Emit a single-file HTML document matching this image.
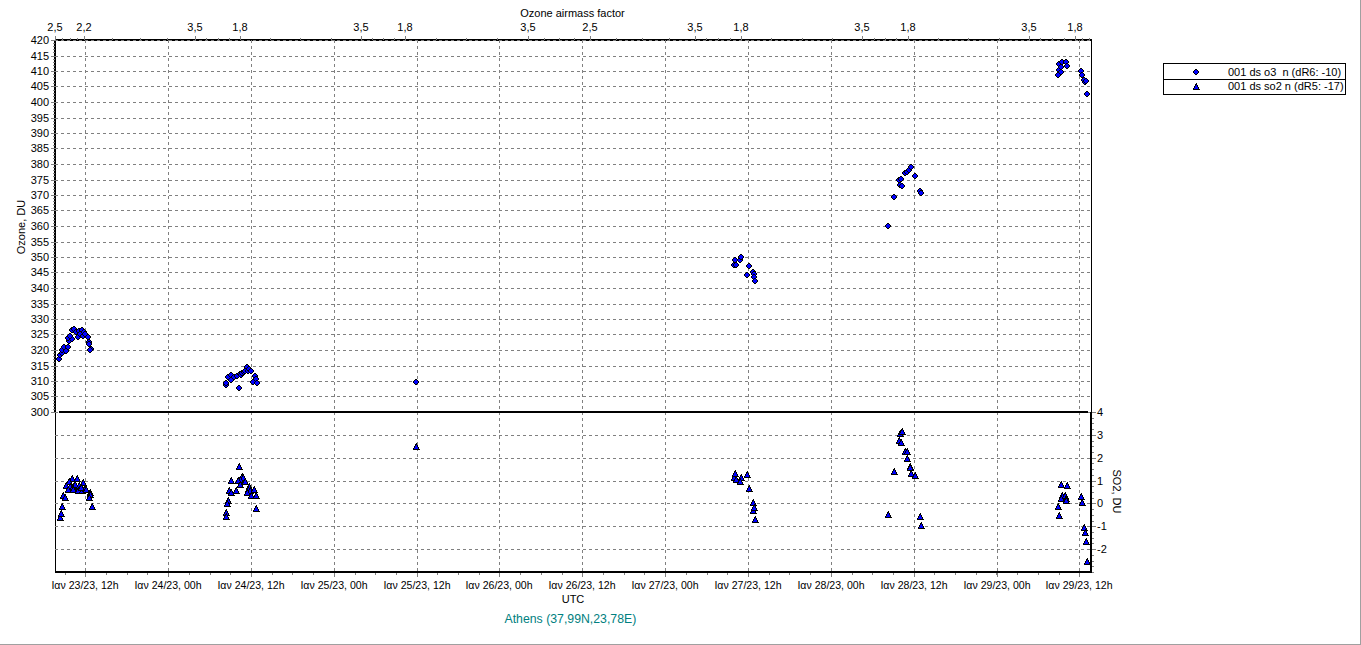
<!DOCTYPE html>
<html><head><meta charset="utf-8"><title>Ozone chart</title>
<style>
html,body{margin:0;padding:0;background:#fff;overflow:hidden}
body{width:1361px;height:645px;font-family:"Liberation Sans",sans-serif}
svg{display:block}
</style></head><body>
<svg width="1361" height="645" viewBox="0 0 1361 645">
<rect width="1361" height="645" fill="#fff"/>
<g shape-rendering="crispEdges">
<rect x="54" y="41" width="2" height="371" fill="#000"/>
<rect x="55" y="412" width="1" height="161" fill="#000"/>
<rect x="56" y="39" width="1036" height="2" fill="#000"/>
<rect x="1091" y="39" width="1" height="373" fill="#000"/>
<rect x="1090" y="412" width="2" height="161" fill="#000"/>
<rect x="55" y="571" width="1037" height="2" fill="#000"/>
<line x1="55" x2="1090" y1="40.5" y2="40.5" stroke="#808080" stroke-width="1" stroke-dasharray="3 3"/>
<line x1="55" x2="1090" y1="56.5" y2="56.5" stroke="#808080" stroke-width="1" stroke-dasharray="3 3"/>
<line x1="55" x2="1090" y1="71.5" y2="71.5" stroke="#808080" stroke-width="1" stroke-dasharray="3 3"/>
<line x1="55" x2="1090" y1="86.5" y2="86.5" stroke="#808080" stroke-width="1" stroke-dasharray="3 3"/>
<line x1="55" x2="1090" y1="102.5" y2="102.5" stroke="#808080" stroke-width="1" stroke-dasharray="3 3"/>
<line x1="55" x2="1090" y1="118.5" y2="118.5" stroke="#808080" stroke-width="1" stroke-dasharray="3 3"/>
<line x1="55" x2="1090" y1="133.5" y2="133.5" stroke="#808080" stroke-width="1" stroke-dasharray="3 3"/>
<line x1="55" x2="1090" y1="148.5" y2="148.5" stroke="#808080" stroke-width="1" stroke-dasharray="3 3"/>
<line x1="55" x2="1090" y1="164.5" y2="164.5" stroke="#808080" stroke-width="1" stroke-dasharray="3 3"/>
<line x1="55" x2="1090" y1="180.5" y2="180.5" stroke="#808080" stroke-width="1" stroke-dasharray="3 3"/>
<line x1="55" x2="1090" y1="195.5" y2="195.5" stroke="#808080" stroke-width="1" stroke-dasharray="3 3"/>
<line x1="55" x2="1090" y1="210.5" y2="210.5" stroke="#808080" stroke-width="1" stroke-dasharray="3 3"/>
<line x1="55" x2="1090" y1="226.5" y2="226.5" stroke="#808080" stroke-width="1" stroke-dasharray="3 3"/>
<line x1="55" x2="1090" y1="242.5" y2="242.5" stroke="#808080" stroke-width="1" stroke-dasharray="3 3"/>
<line x1="55" x2="1090" y1="257.5" y2="257.5" stroke="#808080" stroke-width="1" stroke-dasharray="3 3"/>
<line x1="55" x2="1090" y1="272.5" y2="272.5" stroke="#808080" stroke-width="1" stroke-dasharray="3 3"/>
<line x1="55" x2="1090" y1="288.5" y2="288.5" stroke="#808080" stroke-width="1" stroke-dasharray="3 3"/>
<line x1="55" x2="1090" y1="304.5" y2="304.5" stroke="#808080" stroke-width="1" stroke-dasharray="3 3"/>
<line x1="55" x2="1090" y1="319.5" y2="319.5" stroke="#808080" stroke-width="1" stroke-dasharray="3 3"/>
<line x1="55" x2="1090" y1="334.5" y2="334.5" stroke="#808080" stroke-width="1" stroke-dasharray="3 3"/>
<line x1="55" x2="1090" y1="350.5" y2="350.5" stroke="#808080" stroke-width="1" stroke-dasharray="3 3"/>
<line x1="55" x2="1090" y1="366.5" y2="366.5" stroke="#808080" stroke-width="1" stroke-dasharray="3 3"/>
<line x1="55" x2="1090" y1="381.5" y2="381.5" stroke="#808080" stroke-width="1" stroke-dasharray="3 3"/>
<line x1="55" x2="1090" y1="396.5" y2="396.5" stroke="#808080" stroke-width="1" stroke-dasharray="3 3"/>
<line x1="55" x2="1090" y1="412.5" y2="412.5" stroke="#808080" stroke-width="1" stroke-dasharray="3 3"/>
<line x1="55" x2="1090" y1="435.5" y2="435.5" stroke="#808080" stroke-width="1" stroke-dasharray="3 3"/>
<line x1="55" x2="1090" y1="458.5" y2="458.5" stroke="#808080" stroke-width="1" stroke-dasharray="3 3"/>
<line x1="55" x2="1090" y1="481.5" y2="481.5" stroke="#808080" stroke-width="1" stroke-dasharray="3 3"/>
<line x1="55" x2="1090" y1="503.5" y2="503.5" stroke="#808080" stroke-width="1" stroke-dasharray="3 3"/>
<line x1="55" x2="1090" y1="526.5" y2="526.5" stroke="#808080" stroke-width="1" stroke-dasharray="3 3"/>
<line x1="55" x2="1090" y1="549.5" y2="549.5" stroke="#808080" stroke-width="1" stroke-dasharray="3 3"/>
<line x1="85.5" x2="85.5" y1="40" y2="571" stroke="#808080" stroke-width="1" stroke-dasharray="3 3"/>
<line x1="168.5" x2="168.5" y1="40" y2="571" stroke="#808080" stroke-width="1" stroke-dasharray="3 3"/>
<line x1="251.5" x2="251.5" y1="40" y2="571" stroke="#808080" stroke-width="1" stroke-dasharray="3 3"/>
<line x1="334.5" x2="334.5" y1="40" y2="571" stroke="#808080" stroke-width="1" stroke-dasharray="3 3"/>
<line x1="417.5" x2="417.5" y1="40" y2="571" stroke="#808080" stroke-width="1" stroke-dasharray="3 3"/>
<line x1="499.5" x2="499.5" y1="40" y2="571" stroke="#808080" stroke-width="1" stroke-dasharray="3 3"/>
<line x1="582.5" x2="582.5" y1="40" y2="571" stroke="#808080" stroke-width="1" stroke-dasharray="3 3"/>
<line x1="665.5" x2="665.5" y1="40" y2="571" stroke="#808080" stroke-width="1" stroke-dasharray="3 3"/>
<line x1="748.5" x2="748.5" y1="40" y2="571" stroke="#808080" stroke-width="1" stroke-dasharray="3 3"/>
<line x1="831.5" x2="831.5" y1="40" y2="571" stroke="#808080" stroke-width="1" stroke-dasharray="3 3"/>
<line x1="914.5" x2="914.5" y1="40" y2="571" stroke="#808080" stroke-width="1" stroke-dasharray="3 3"/>
<line x1="997.5" x2="997.5" y1="40" y2="571" stroke="#808080" stroke-width="1" stroke-dasharray="3 3"/>
<line x1="1079.5" x2="1079.5" y1="40" y2="571" stroke="#808080" stroke-width="1" stroke-dasharray="3 3"/>
<rect x="51" y="40" width="4" height="1" fill="#808080"/>
<rect x="51" y="56" width="4" height="1" fill="#808080"/>
<rect x="51" y="71" width="4" height="1" fill="#808080"/>
<rect x="51" y="86" width="4" height="1" fill="#808080"/>
<rect x="51" y="102" width="4" height="1" fill="#808080"/>
<rect x="51" y="118" width="4" height="1" fill="#808080"/>
<rect x="51" y="133" width="4" height="1" fill="#808080"/>
<rect x="51" y="148" width="4" height="1" fill="#808080"/>
<rect x="51" y="164" width="4" height="1" fill="#808080"/>
<rect x="51" y="180" width="4" height="1" fill="#808080"/>
<rect x="51" y="195" width="4" height="1" fill="#808080"/>
<rect x="51" y="210" width="4" height="1" fill="#808080"/>
<rect x="51" y="226" width="4" height="1" fill="#808080"/>
<rect x="51" y="242" width="4" height="1" fill="#808080"/>
<rect x="51" y="257" width="4" height="1" fill="#808080"/>
<rect x="51" y="272" width="4" height="1" fill="#808080"/>
<rect x="51" y="288" width="4" height="1" fill="#808080"/>
<rect x="51" y="304" width="4" height="1" fill="#808080"/>
<rect x="51" y="319" width="4" height="1" fill="#808080"/>
<rect x="51" y="334" width="4" height="1" fill="#808080"/>
<rect x="51" y="350" width="4" height="1" fill="#808080"/>
<rect x="51" y="366" width="4" height="1" fill="#808080"/>
<rect x="51" y="381" width="4" height="1" fill="#808080"/>
<rect x="51" y="396" width="4" height="1" fill="#808080"/>
<rect x="51" y="412" width="4" height="1" fill="#808080"/>
<rect x="53" y="412" width="2" height="1" fill="#808080"/>
<rect x="53" y="409" width="2" height="1" fill="#808080"/>
<rect x="53" y="406" width="2" height="1" fill="#808080"/>
<rect x="53" y="403" width="2" height="1" fill="#808080"/>
<rect x="53" y="400" width="2" height="1" fill="#808080"/>
<rect x="53" y="396" width="2" height="1" fill="#808080"/>
<rect x="53" y="393" width="2" height="1" fill="#808080"/>
<rect x="53" y="390" width="2" height="1" fill="#808080"/>
<rect x="53" y="387" width="2" height="1" fill="#808080"/>
<rect x="53" y="384" width="2" height="1" fill="#808080"/>
<rect x="53" y="381" width="2" height="1" fill="#808080"/>
<rect x="53" y="378" width="2" height="1" fill="#808080"/>
<rect x="53" y="375" width="2" height="1" fill="#808080"/>
<rect x="53" y="372" width="2" height="1" fill="#808080"/>
<rect x="53" y="369" width="2" height="1" fill="#808080"/>
<rect x="53" y="366" width="2" height="1" fill="#808080"/>
<rect x="53" y="362" width="2" height="1" fill="#808080"/>
<rect x="53" y="359" width="2" height="1" fill="#808080"/>
<rect x="53" y="356" width="2" height="1" fill="#808080"/>
<rect x="53" y="353" width="2" height="1" fill="#808080"/>
<rect x="53" y="350" width="2" height="1" fill="#808080"/>
<rect x="53" y="347" width="2" height="1" fill="#808080"/>
<rect x="53" y="344" width="2" height="1" fill="#808080"/>
<rect x="53" y="341" width="2" height="1" fill="#808080"/>
<rect x="53" y="338" width="2" height="1" fill="#808080"/>
<rect x="53" y="334" width="2" height="1" fill="#808080"/>
<rect x="53" y="331" width="2" height="1" fill="#808080"/>
<rect x="53" y="328" width="2" height="1" fill="#808080"/>
<rect x="53" y="325" width="2" height="1" fill="#808080"/>
<rect x="53" y="322" width="2" height="1" fill="#808080"/>
<rect x="53" y="319" width="2" height="1" fill="#808080"/>
<rect x="53" y="316" width="2" height="1" fill="#808080"/>
<rect x="53" y="313" width="2" height="1" fill="#808080"/>
<rect x="53" y="310" width="2" height="1" fill="#808080"/>
<rect x="53" y="307" width="2" height="1" fill="#808080"/>
<rect x="53" y="304" width="2" height="1" fill="#808080"/>
<rect x="53" y="300" width="2" height="1" fill="#808080"/>
<rect x="53" y="297" width="2" height="1" fill="#808080"/>
<rect x="53" y="294" width="2" height="1" fill="#808080"/>
<rect x="53" y="291" width="2" height="1" fill="#808080"/>
<rect x="53" y="288" width="2" height="1" fill="#808080"/>
<rect x="53" y="285" width="2" height="1" fill="#808080"/>
<rect x="53" y="282" width="2" height="1" fill="#808080"/>
<rect x="53" y="279" width="2" height="1" fill="#808080"/>
<rect x="53" y="276" width="2" height="1" fill="#808080"/>
<rect x="53" y="272" width="2" height="1" fill="#808080"/>
<rect x="53" y="269" width="2" height="1" fill="#808080"/>
<rect x="53" y="266" width="2" height="1" fill="#808080"/>
<rect x="53" y="263" width="2" height="1" fill="#808080"/>
<rect x="53" y="260" width="2" height="1" fill="#808080"/>
<rect x="53" y="257" width="2" height="1" fill="#808080"/>
<rect x="53" y="254" width="2" height="1" fill="#808080"/>
<rect x="53" y="251" width="2" height="1" fill="#808080"/>
<rect x="53" y="248" width="2" height="1" fill="#808080"/>
<rect x="53" y="245" width="2" height="1" fill="#808080"/>
<rect x="53" y="242" width="2" height="1" fill="#808080"/>
<rect x="53" y="238" width="2" height="1" fill="#808080"/>
<rect x="53" y="235" width="2" height="1" fill="#808080"/>
<rect x="53" y="232" width="2" height="1" fill="#808080"/>
<rect x="53" y="229" width="2" height="1" fill="#808080"/>
<rect x="53" y="226" width="2" height="1" fill="#808080"/>
<rect x="53" y="223" width="2" height="1" fill="#808080"/>
<rect x="53" y="220" width="2" height="1" fill="#808080"/>
<rect x="53" y="217" width="2" height="1" fill="#808080"/>
<rect x="53" y="214" width="2" height="1" fill="#808080"/>
<rect x="53" y="210" width="2" height="1" fill="#808080"/>
<rect x="53" y="207" width="2" height="1" fill="#808080"/>
<rect x="53" y="204" width="2" height="1" fill="#808080"/>
<rect x="53" y="201" width="2" height="1" fill="#808080"/>
<rect x="53" y="198" width="2" height="1" fill="#808080"/>
<rect x="53" y="195" width="2" height="1" fill="#808080"/>
<rect x="53" y="192" width="2" height="1" fill="#808080"/>
<rect x="53" y="189" width="2" height="1" fill="#808080"/>
<rect x="53" y="186" width="2" height="1" fill="#808080"/>
<rect x="53" y="183" width="2" height="1" fill="#808080"/>
<rect x="53" y="180" width="2" height="1" fill="#808080"/>
<rect x="53" y="176" width="2" height="1" fill="#808080"/>
<rect x="53" y="173" width="2" height="1" fill="#808080"/>
<rect x="53" y="170" width="2" height="1" fill="#808080"/>
<rect x="53" y="167" width="2" height="1" fill="#808080"/>
<rect x="53" y="164" width="2" height="1" fill="#808080"/>
<rect x="53" y="161" width="2" height="1" fill="#808080"/>
<rect x="53" y="158" width="2" height="1" fill="#808080"/>
<rect x="53" y="155" width="2" height="1" fill="#808080"/>
<rect x="53" y="152" width="2" height="1" fill="#808080"/>
<rect x="53" y="148" width="2" height="1" fill="#808080"/>
<rect x="53" y="145" width="2" height="1" fill="#808080"/>
<rect x="53" y="142" width="2" height="1" fill="#808080"/>
<rect x="53" y="139" width="2" height="1" fill="#808080"/>
<rect x="53" y="136" width="2" height="1" fill="#808080"/>
<rect x="53" y="133" width="2" height="1" fill="#808080"/>
<rect x="53" y="130" width="2" height="1" fill="#808080"/>
<rect x="53" y="127" width="2" height="1" fill="#808080"/>
<rect x="53" y="124" width="2" height="1" fill="#808080"/>
<rect x="53" y="121" width="2" height="1" fill="#808080"/>
<rect x="53" y="118" width="2" height="1" fill="#808080"/>
<rect x="53" y="114" width="2" height="1" fill="#808080"/>
<rect x="53" y="111" width="2" height="1" fill="#808080"/>
<rect x="53" y="108" width="2" height="1" fill="#808080"/>
<rect x="53" y="105" width="2" height="1" fill="#808080"/>
<rect x="53" y="102" width="2" height="1" fill="#808080"/>
<rect x="53" y="99" width="2" height="1" fill="#808080"/>
<rect x="53" y="96" width="2" height="1" fill="#808080"/>
<rect x="53" y="93" width="2" height="1" fill="#808080"/>
<rect x="53" y="90" width="2" height="1" fill="#808080"/>
<rect x="53" y="86" width="2" height="1" fill="#808080"/>
<rect x="53" y="83" width="2" height="1" fill="#808080"/>
<rect x="53" y="80" width="2" height="1" fill="#808080"/>
<rect x="53" y="77" width="2" height="1" fill="#808080"/>
<rect x="53" y="74" width="2" height="1" fill="#808080"/>
<rect x="53" y="71" width="2" height="1" fill="#808080"/>
<rect x="53" y="68" width="2" height="1" fill="#808080"/>
<rect x="53" y="65" width="2" height="1" fill="#808080"/>
<rect x="53" y="62" width="2" height="1" fill="#808080"/>
<rect x="53" y="59" width="2" height="1" fill="#808080"/>
<rect x="53" y="56" width="2" height="1" fill="#808080"/>
<rect x="53" y="52" width="2" height="1" fill="#808080"/>
<rect x="53" y="49" width="2" height="1" fill="#808080"/>
<rect x="53" y="46" width="2" height="1" fill="#808080"/>
<rect x="53" y="43" width="2" height="1" fill="#808080"/>
<rect x="53" y="40" width="2" height="1" fill="#808080"/>
<rect x="1092" y="412" width="4" height="1" fill="#808080"/>
<rect x="1092" y="435" width="4" height="1" fill="#808080"/>
<rect x="1092" y="458" width="4" height="1" fill="#808080"/>
<rect x="1092" y="481" width="4" height="1" fill="#808080"/>
<rect x="1092" y="503" width="4" height="1" fill="#808080"/>
<rect x="1092" y="526" width="4" height="1" fill="#808080"/>
<rect x="1092" y="549" width="4" height="1" fill="#808080"/>
<rect x="1092" y="412" width="2" height="1" fill="#808080"/>
<rect x="1092" y="418" width="2" height="1" fill="#808080"/>
<rect x="1092" y="423" width="2" height="1" fill="#808080"/>
<rect x="1092" y="429" width="2" height="1" fill="#808080"/>
<rect x="1092" y="435" width="2" height="1" fill="#808080"/>
<rect x="1092" y="441" width="2" height="1" fill="#808080"/>
<rect x="1092" y="446" width="2" height="1" fill="#808080"/>
<rect x="1092" y="452" width="2" height="1" fill="#808080"/>
<rect x="1092" y="458" width="2" height="1" fill="#808080"/>
<rect x="1092" y="463" width="2" height="1" fill="#808080"/>
<rect x="1092" y="469" width="2" height="1" fill="#808080"/>
<rect x="1092" y="475" width="2" height="1" fill="#808080"/>
<rect x="1092" y="481" width="2" height="1" fill="#808080"/>
<rect x="1092" y="486" width="2" height="1" fill="#808080"/>
<rect x="1092" y="492" width="2" height="1" fill="#808080"/>
<rect x="1092" y="498" width="2" height="1" fill="#808080"/>
<rect x="1092" y="503" width="2" height="1" fill="#808080"/>
<rect x="1092" y="509" width="2" height="1" fill="#808080"/>
<rect x="1092" y="515" width="2" height="1" fill="#808080"/>
<rect x="1092" y="521" width="2" height="1" fill="#808080"/>
<rect x="1092" y="526" width="2" height="1" fill="#808080"/>
<rect x="1092" y="532" width="2" height="1" fill="#808080"/>
<rect x="1092" y="538" width="2" height="1" fill="#808080"/>
<rect x="1092" y="543" width="2" height="1" fill="#808080"/>
<rect x="1092" y="549" width="2" height="1" fill="#808080"/>
<rect x="1092" y="555" width="2" height="1" fill="#808080"/>
<rect x="1092" y="561" width="2" height="1" fill="#808080"/>
<rect x="1092" y="566" width="2" height="1" fill="#808080"/>
<rect x="1092" y="572" width="2" height="1" fill="#808080"/>
<rect x="85" y="573" width="1" height="4" fill="#808080"/>
<rect x="168" y="573" width="1" height="4" fill="#808080"/>
<rect x="251" y="573" width="1" height="4" fill="#808080"/>
<rect x="334" y="573" width="1" height="4" fill="#808080"/>
<rect x="417" y="573" width="1" height="4" fill="#808080"/>
<rect x="499" y="573" width="1" height="4" fill="#808080"/>
<rect x="582" y="573" width="1" height="4" fill="#808080"/>
<rect x="665" y="573" width="1" height="4" fill="#808080"/>
<rect x="748" y="573" width="1" height="4" fill="#808080"/>
<rect x="831" y="573" width="1" height="4" fill="#808080"/>
<rect x="914" y="573" width="1" height="4" fill="#808080"/>
<rect x="997" y="573" width="1" height="4" fill="#808080"/>
<rect x="1079" y="573" width="1" height="4" fill="#808080"/>
<rect x="65" y="573" width="1" height="2" fill="#808080"/>
<rect x="85" y="573" width="1" height="2" fill="#808080"/>
<rect x="106" y="573" width="1" height="2" fill="#808080"/>
<rect x="127" y="573" width="1" height="2" fill="#808080"/>
<rect x="147" y="573" width="1" height="2" fill="#808080"/>
<rect x="168" y="573" width="1" height="2" fill="#808080"/>
<rect x="189" y="573" width="1" height="2" fill="#808080"/>
<rect x="210" y="573" width="1" height="2" fill="#808080"/>
<rect x="230" y="573" width="1" height="2" fill="#808080"/>
<rect x="251" y="573" width="1" height="2" fill="#808080"/>
<rect x="272" y="573" width="1" height="2" fill="#808080"/>
<rect x="292" y="573" width="1" height="2" fill="#808080"/>
<rect x="313" y="573" width="1" height="2" fill="#808080"/>
<rect x="334" y="573" width="1" height="2" fill="#808080"/>
<rect x="355" y="573" width="1" height="2" fill="#808080"/>
<rect x="375" y="573" width="1" height="2" fill="#808080"/>
<rect x="396" y="573" width="1" height="2" fill="#808080"/>
<rect x="417" y="573" width="1" height="2" fill="#808080"/>
<rect x="437" y="573" width="1" height="2" fill="#808080"/>
<rect x="458" y="573" width="1" height="2" fill="#808080"/>
<rect x="479" y="573" width="1" height="2" fill="#808080"/>
<rect x="499" y="573" width="1" height="2" fill="#808080"/>
<rect x="520" y="573" width="1" height="2" fill="#808080"/>
<rect x="541" y="573" width="1" height="2" fill="#808080"/>
<rect x="562" y="573" width="1" height="2" fill="#808080"/>
<rect x="582" y="573" width="1" height="2" fill="#808080"/>
<rect x="603" y="573" width="1" height="2" fill="#808080"/>
<rect x="624" y="573" width="1" height="2" fill="#808080"/>
<rect x="644" y="573" width="1" height="2" fill="#808080"/>
<rect x="665" y="573" width="1" height="2" fill="#808080"/>
<rect x="686" y="573" width="1" height="2" fill="#808080"/>
<rect x="707" y="573" width="1" height="2" fill="#808080"/>
<rect x="727" y="573" width="1" height="2" fill="#808080"/>
<rect x="748" y="573" width="1" height="2" fill="#808080"/>
<rect x="769" y="573" width="1" height="2" fill="#808080"/>
<rect x="789" y="573" width="1" height="2" fill="#808080"/>
<rect x="810" y="573" width="1" height="2" fill="#808080"/>
<rect x="831" y="573" width="1" height="2" fill="#808080"/>
<rect x="852" y="573" width="1" height="2" fill="#808080"/>
<rect x="872" y="573" width="1" height="2" fill="#808080"/>
<rect x="893" y="573" width="1" height="2" fill="#808080"/>
<rect x="914" y="573" width="1" height="2" fill="#808080"/>
<rect x="934" y="573" width="1" height="2" fill="#808080"/>
<rect x="955" y="573" width="1" height="2" fill="#808080"/>
<rect x="976" y="573" width="1" height="2" fill="#808080"/>
<rect x="996" y="573" width="1" height="2" fill="#808080"/>
<rect x="1017" y="573" width="1" height="2" fill="#808080"/>
<rect x="1038" y="573" width="1" height="2" fill="#808080"/>
<rect x="1059" y="573" width="1" height="2" fill="#808080"/>
<rect x="1079" y="573" width="1" height="2" fill="#808080"/>
<rect x="55" y="36" width="1" height="4" fill="#808080"/>
<rect x="84" y="36" width="1" height="4" fill="#808080"/>
<rect x="195" y="36" width="1" height="4" fill="#808080"/>
<rect x="240" y="36" width="1" height="4" fill="#808080"/>
<rect x="361" y="36" width="1" height="4" fill="#808080"/>
<rect x="405" y="36" width="1" height="4" fill="#808080"/>
<rect x="528" y="36" width="1" height="4" fill="#808080"/>
<rect x="590" y="36" width="1" height="4" fill="#808080"/>
<rect x="695" y="36" width="1" height="4" fill="#808080"/>
<rect x="741" y="36" width="1" height="4" fill="#808080"/>
<rect x="862" y="36" width="1" height="4" fill="#808080"/>
<rect x="908" y="36" width="1" height="4" fill="#808080"/>
<rect x="1029" y="36" width="1" height="4" fill="#808080"/>
<rect x="1075" y="36" width="1" height="4" fill="#808080"/>
<rect x="62" y="38" width="1" height="2" fill="#808080"/>
<rect x="70" y="38" width="1" height="2" fill="#808080"/>
<rect x="77" y="38" width="1" height="2" fill="#808080"/>
<rect x="112" y="38" width="1" height="2" fill="#808080"/>
<rect x="140" y="38" width="1" height="2" fill="#808080"/>
<rect x="167" y="38" width="1" height="2" fill="#808080"/>
<rect x="206" y="38" width="1" height="2" fill="#808080"/>
<rect x="218" y="38" width="1" height="2" fill="#808080"/>
<rect x="229" y="38" width="1" height="2" fill="#808080"/>
<rect x="270" y="38" width="1" height="2" fill="#808080"/>
<rect x="300" y="38" width="1" height="2" fill="#808080"/>
<rect x="331" y="38" width="1" height="2" fill="#808080"/>
<rect x="372" y="38" width="1" height="2" fill="#808080"/>
<rect x="383" y="38" width="1" height="2" fill="#808080"/>
<rect x="394" y="38" width="1" height="2" fill="#808080"/>
<rect x="436" y="38" width="1" height="2" fill="#808080"/>
<rect x="466" y="38" width="1" height="2" fill="#808080"/>
<rect x="497" y="38" width="1" height="2" fill="#808080"/>
<rect x="544" y="38" width="1" height="2" fill="#808080"/>
<rect x="559" y="38" width="1" height="2" fill="#808080"/>
<rect x="574" y="38" width="1" height="2" fill="#808080"/>
<rect x="616" y="38" width="1" height="2" fill="#808080"/>
<rect x="642" y="38" width="1" height="2" fill="#808080"/>
<rect x="669" y="38" width="1" height="2" fill="#808080"/>
<rect x="706" y="38" width="1" height="2" fill="#808080"/>
<rect x="718" y="38" width="1" height="2" fill="#808080"/>
<rect x="730" y="38" width="1" height="2" fill="#808080"/>
<rect x="771" y="38" width="1" height="2" fill="#808080"/>
<rect x="802" y="38" width="1" height="2" fill="#808080"/>
<rect x="832" y="38" width="1" height="2" fill="#808080"/>
<rect x="874" y="38" width="1" height="2" fill="#808080"/>
<rect x="885" y="38" width="1" height="2" fill="#808080"/>
<rect x="896" y="38" width="1" height="2" fill="#808080"/>
<rect x="938" y="38" width="1" height="2" fill="#808080"/>
<rect x="968" y="38" width="1" height="2" fill="#808080"/>
<rect x="999" y="38" width="1" height="2" fill="#808080"/>
<rect x="1040" y="38" width="1" height="2" fill="#808080"/>
<rect x="1052" y="38" width="1" height="2" fill="#808080"/>
<rect x="1064" y="38" width="1" height="2" fill="#808080"/>
<rect x="1082" y="38" width="1" height="2" fill="#808080"/>
<rect x="1089" y="38" width="1" height="2" fill="#808080"/>
<rect x="59" y="411" width="1029" height="2" fill="#000"/>
<rect x="1163" y="63" width="183" height="1" fill="#000"/>
<rect x="1163" y="79" width="183" height="1" fill="#000"/>
<rect x="1163" y="94" width="183" height="1" fill="#000"/>
<rect x="1163" y="63" width="1" height="32" fill="#000"/>
<rect x="1345" y="63" width="1" height="32" fill="#000"/>
<rect x="1360" y="0" width="1" height="645" fill="#a0a0a0"/>
<rect x="0" y="644" width="1361" height="1" fill="#a0a0a0"/>
</g>
<defs>
<g id="d" shape-rendering="crispEdges"><path fill="#000" d="M2 0h2v1h1v1h1v2h-1v1h-1v1h-2v-1h-1v-1h-1v-2h1v-1h1z"/><path fill="#00f" d="M2 1h2v1h1v2h-1v1h-2v-1h-1v-2h1z"/></g>
<g id="t" shape-rendering="crispEdges"><path fill="#000" d="M3 0h1v2h1v2h1v2h1v1h-7v-2h1v-2h1v-2h1z"/><path fill="#00f" d="M3 2h1v1h-1zM2 3h2v1h-2zM2 4h3v1h-3zM1 5h4v1h-4z"/></g>
</defs>
<use href="#d" x="56" y="356"/>
<use href="#d" x="57" y="352"/>
<use href="#d" x="59" y="350"/>
<use href="#d" x="59" y="347"/>
<use href="#d" x="63" y="348"/>
<use href="#d" x="61" y="344"/>
<use href="#d" x="65" y="344"/>
<use href="#d" x="66" y="338"/>
<use href="#d" x="69" y="336"/>
<use href="#d" x="65" y="335"/>
<use href="#d" x="67" y="333"/>
<use href="#d" x="69" y="327"/>
<use href="#d" x="71" y="326"/>
<use href="#d" x="73" y="329"/>
<use href="#d" x="76" y="328"/>
<use href="#d" x="75" y="334"/>
<use href="#d" x="77" y="331"/>
<use href="#d" x="79" y="327"/>
<use href="#d" x="80" y="333"/>
<use href="#d" x="81" y="329"/>
<use href="#d" x="82" y="331"/>
<use href="#d" x="85" y="334"/>
<use href="#d" x="86" y="339"/>
<use href="#d" x="86" y="341"/>
<use href="#d" x="88" y="346"/>
<use href="#d" x="87" y="347"/>
<use href="#d" x="223" y="382"/>
<use href="#d" x="223" y="380"/>
<use href="#d" x="225" y="374"/>
<use href="#d" x="228" y="372"/>
<use href="#d" x="228" y="377"/>
<use href="#d" x="231" y="374"/>
<use href="#d" x="234" y="373"/>
<use href="#d" x="236" y="385"/>
<use href="#d" x="237" y="371"/>
<use href="#d" x="238" y="372"/>
<use href="#d" x="239" y="370"/>
<use href="#d" x="241" y="369"/>
<use href="#d" x="242" y="368"/>
<use href="#d" x="245" y="368"/>
<use href="#d" x="244" y="364"/>
<use href="#d" x="246" y="366"/>
<use href="#d" x="248" y="368"/>
<use href="#d" x="252" y="373"/>
<use href="#d" x="253" y="376"/>
<use href="#d" x="250" y="379"/>
<use href="#d" x="254" y="380"/>
<use href="#d" x="413" y="379"/>
<use href="#d" x="731" y="262"/>
<use href="#d" x="732" y="257"/>
<use href="#d" x="733" y="262"/>
<use href="#d" x="737" y="257"/>
<use href="#d" x="738" y="254"/>
<use href="#d" x="746" y="263"/>
<use href="#d" x="744" y="272"/>
<use href="#d" x="750" y="269"/>
<use href="#d" x="751" y="271"/>
<use href="#d" x="751" y="274"/>
<use href="#d" x="752" y="278"/>
<use href="#d" x="885" y="223"/>
<use href="#d" x="891" y="194"/>
<use href="#d" x="896" y="177"/>
<use href="#d" x="898" y="176"/>
<use href="#d" x="897" y="182"/>
<use href="#d" x="899" y="183"/>
<use href="#d" x="902" y="170"/>
<use href="#d" x="904" y="169"/>
<use href="#d" x="906" y="167"/>
<use href="#d" x="908" y="164"/>
<use href="#d" x="912" y="173"/>
<use href="#d" x="917" y="188"/>
<use href="#d" x="918" y="190"/>
<use href="#d" x="1055" y="72"/>
<use href="#d" x="1056" y="67"/>
<use href="#d" x="1058" y="69"/>
<use href="#d" x="1056" y="61"/>
<use href="#d" x="1058" y="64"/>
<use href="#d" x="1059" y="59"/>
<use href="#d" x="1063" y="59"/>
<use href="#d" x="1064" y="63"/>
<use href="#d" x="1078" y="68"/>
<use href="#d" x="1079" y="72"/>
<use href="#d" x="1081" y="77"/>
<use href="#d" x="1082" y="79"/>
<use href="#d" x="1083" y="78"/>
<use href="#d" x="1084" y="91"/>
<use href="#t" x="57" y="514"/>
<use href="#t" x="58" y="510"/>
<use href="#t" x="59" y="503"/>
<use href="#t" x="60" y="492"/>
<use href="#t" x="62" y="494"/>
<use href="#t" x="69" y="475"/>
<use href="#t" x="74" y="475"/>
<use href="#t" x="80" y="479"/>
<use href="#t" x="66" y="478"/>
<use href="#t" x="67" y="483"/>
<use href="#t" x="63" y="482"/>
<use href="#t" x="70" y="483"/>
<use href="#t" x="72" y="481"/>
<use href="#t" x="76" y="482"/>
<use href="#t" x="65" y="486"/>
<use href="#t" x="70" y="486"/>
<use href="#t" x="75" y="487"/>
<use href="#t" x="79" y="487"/>
<use href="#t" x="78" y="483"/>
<use href="#t" x="82" y="485"/>
<use href="#t" x="83" y="486"/>
<use href="#t" x="78" y="484"/>
<use href="#t" x="87" y="489"/>
<use href="#t" x="87" y="491"/>
<use href="#t" x="86" y="494"/>
<use href="#t" x="89" y="503"/>
<use href="#t" x="236" y="463"/>
<use href="#t" x="228" y="477"/>
<use href="#t" x="239" y="473"/>
<use href="#t" x="240" y="474"/>
<use href="#t" x="237" y="476"/>
<use href="#t" x="235" y="477"/>
<use href="#t" x="242" y="478"/>
<use href="#t" x="237" y="481"/>
<use href="#t" x="226" y="487"/>
<use href="#t" x="228" y="489"/>
<use href="#t" x="233" y="487"/>
<use href="#t" x="246" y="483"/>
<use href="#t" x="245" y="486"/>
<use href="#t" x="247" y="487"/>
<use href="#t" x="251" y="486"/>
<use href="#t" x="244" y="489"/>
<use href="#t" x="248" y="492"/>
<use href="#t" x="253" y="492"/>
<use href="#t" x="225" y="497"/>
<use href="#t" x="224" y="500"/>
<use href="#t" x="253" y="505"/>
<use href="#t" x="253" y="505"/>
<use href="#t" x="223" y="509"/>
<use href="#t" x="223" y="513"/>
<use href="#t" x="413" y="443"/>
<use href="#t" x="731" y="474"/>
<use href="#t" x="732" y="470"/>
<use href="#t" x="733" y="476"/>
<use href="#t" x="738" y="474"/>
<use href="#t" x="737" y="478"/>
<use href="#t" x="744" y="471"/>
<use href="#t" x="746" y="485"/>
<use href="#t" x="750" y="499"/>
<use href="#t" x="750" y="507"/>
<use href="#t" x="751" y="504"/>
<use href="#t" x="752" y="516"/>
<use href="#t" x="897" y="430"/>
<use href="#t" x="899" y="428"/>
<use href="#t" x="896" y="437"/>
<use href="#t" x="898" y="439"/>
<use href="#t" x="902" y="448"/>
<use href="#t" x="904" y="448"/>
<use href="#t" x="904" y="455"/>
<use href="#t" x="907" y="463"/>
<use href="#t" x="907" y="464"/>
<use href="#t" x="891" y="468"/>
<use href="#t" x="908" y="470"/>
<use href="#t" x="912" y="472"/>
<use href="#t" x="885" y="511"/>
<use href="#t" x="917" y="513"/>
<use href="#t" x="918" y="522"/>
<use href="#t" x="1058" y="481"/>
<use href="#t" x="1064" y="482"/>
<use href="#t" x="1059" y="492"/>
<use href="#t" x="1062" y="492"/>
<use href="#t" x="1058" y="495"/>
<use href="#t" x="1063" y="495"/>
<use href="#t" x="1063" y="497"/>
<use href="#t" x="1078" y="493"/>
<use href="#t" x="1079" y="499"/>
<use href="#t" x="1055" y="503"/>
<use href="#t" x="1056" y="512"/>
<use href="#t" x="1081" y="524"/>
<use href="#t" x="1082" y="529"/>
<use href="#t" x="1083" y="538"/>
<use href="#t" x="1084" y="558"/>
<use href="#d" x="1193" y="69"/>
<use href="#t" x="1193" y="83"/>
<g font-family="Liberation Sans, sans-serif" font-size="11" fill="#000">
<text x="49" y="44" text-anchor="end">420</text>
<text x="49" y="60" text-anchor="end">415</text>
<text x="49" y="75" text-anchor="end">410</text>
<text x="49" y="90" text-anchor="end">405</text>
<text x="49" y="106" text-anchor="end">400</text>
<text x="49" y="122" text-anchor="end">395</text>
<text x="49" y="137" text-anchor="end">390</text>
<text x="49" y="152" text-anchor="end">385</text>
<text x="49" y="168" text-anchor="end">380</text>
<text x="49" y="184" text-anchor="end">375</text>
<text x="49" y="199" text-anchor="end">370</text>
<text x="49" y="214" text-anchor="end">365</text>
<text x="49" y="230" text-anchor="end">360</text>
<text x="49" y="246" text-anchor="end">355</text>
<text x="49" y="261" text-anchor="end">350</text>
<text x="49" y="276" text-anchor="end">345</text>
<text x="49" y="292" text-anchor="end">340</text>
<text x="49" y="308" text-anchor="end">335</text>
<text x="49" y="323" text-anchor="end">330</text>
<text x="49" y="338" text-anchor="end">325</text>
<text x="49" y="354" text-anchor="end">320</text>
<text x="49" y="370" text-anchor="end">315</text>
<text x="49" y="385" text-anchor="end">310</text>
<text x="49" y="400" text-anchor="end">305</text>
<text x="49" y="416" text-anchor="end">300</text>
<text x="1097" y="416">4</text>
<text x="1097" y="439">3</text>
<text x="1097" y="462">2</text>
<text x="1097" y="485">1</text>
<text x="1097" y="507">0</text>
<text x="1097" y="530">-1</text>
<text x="1097" y="553">-2</text>
<text x="55" y="31" text-anchor="middle">2,5</text>
<text x="84" y="31" text-anchor="middle">2,2</text>
<text x="195" y="31" text-anchor="middle">3,5</text>
<text x="240" y="31" text-anchor="middle">1,8</text>
<text x="361" y="31" text-anchor="middle">3,5</text>
<text x="405" y="31" text-anchor="middle">1,8</text>
<text x="528" y="31" text-anchor="middle">3,5</text>
<text x="590" y="31" text-anchor="middle">2,5</text>
<text x="695" y="31" text-anchor="middle">3,5</text>
<text x="741" y="31" text-anchor="middle">1,8</text>
<text x="862" y="31" text-anchor="middle">3,5</text>
<text x="908" y="31" text-anchor="middle">1,8</text>
<text x="1029" y="31" text-anchor="middle">3,5</text>
<text x="1075" y="31" text-anchor="middle">1,8</text>
<text x="85" y="589" text-anchor="middle" textLength="67.2" lengthAdjust="spacingAndGlyphs">&#921;&#945;&#957; 23/23, 12h</text>
<text x="168" y="589" text-anchor="middle" textLength="67.2" lengthAdjust="spacingAndGlyphs">&#921;&#945;&#957; 24/23, 00h</text>
<text x="251" y="589" text-anchor="middle" textLength="67.2" lengthAdjust="spacingAndGlyphs">&#921;&#945;&#957; 24/23, 12h</text>
<text x="334" y="589" text-anchor="middle" textLength="67.2" lengthAdjust="spacingAndGlyphs">&#921;&#945;&#957; 25/23, 00h</text>
<text x="417" y="589" text-anchor="middle" textLength="67.2" lengthAdjust="spacingAndGlyphs">&#921;&#945;&#957; 25/23, 12h</text>
<text x="499" y="589" text-anchor="middle" textLength="67.2" lengthAdjust="spacingAndGlyphs">&#921;&#945;&#957; 26/23, 00h</text>
<text x="582" y="589" text-anchor="middle" textLength="67.2" lengthAdjust="spacingAndGlyphs">&#921;&#945;&#957; 26/23, 12h</text>
<text x="665" y="589" text-anchor="middle" textLength="67.2" lengthAdjust="spacingAndGlyphs">&#921;&#945;&#957; 27/23, 00h</text>
<text x="748" y="589" text-anchor="middle" textLength="67.2" lengthAdjust="spacingAndGlyphs">&#921;&#945;&#957; 27/23, 12h</text>
<text x="831" y="589" text-anchor="middle" textLength="67.2" lengthAdjust="spacingAndGlyphs">&#921;&#945;&#957; 28/23, 00h</text>
<text x="914" y="589" text-anchor="middle" textLength="67.2" lengthAdjust="spacingAndGlyphs">&#921;&#945;&#957; 28/23, 12h</text>
<text x="997" y="589" text-anchor="middle" textLength="67.2" lengthAdjust="spacingAndGlyphs">&#921;&#945;&#957; 29/23, 00h</text>
<text x="1079" y="589" text-anchor="middle" textLength="67.2" lengthAdjust="spacingAndGlyphs">&#921;&#945;&#957; 29/23, 12h</text>
<text x="572.5" y="17" text-anchor="middle">Ozone airmass factor</text>
<text x="573" y="603" text-anchor="middle">UTC</text>
<text transform="translate(25,227) rotate(-90)" text-anchor="middle">Ozone, DU</text>
<text transform="translate(1113,491.5) rotate(90)" text-anchor="middle">SO2, DU</text>
<text x="1228" y="76">001 ds o3 &#160;n (dR6: -10)</text>
<text x="1228" y="90">001 ds so2 n (dR5: -17)</text>
<text x="570.4" y="623" text-anchor="middle" font-size="12" fill="#008080" textLength="131.8" lengthAdjust="spacingAndGlyphs">Athens (37,99N,23,78E)</text>
</g>
</svg>
</body></html>
